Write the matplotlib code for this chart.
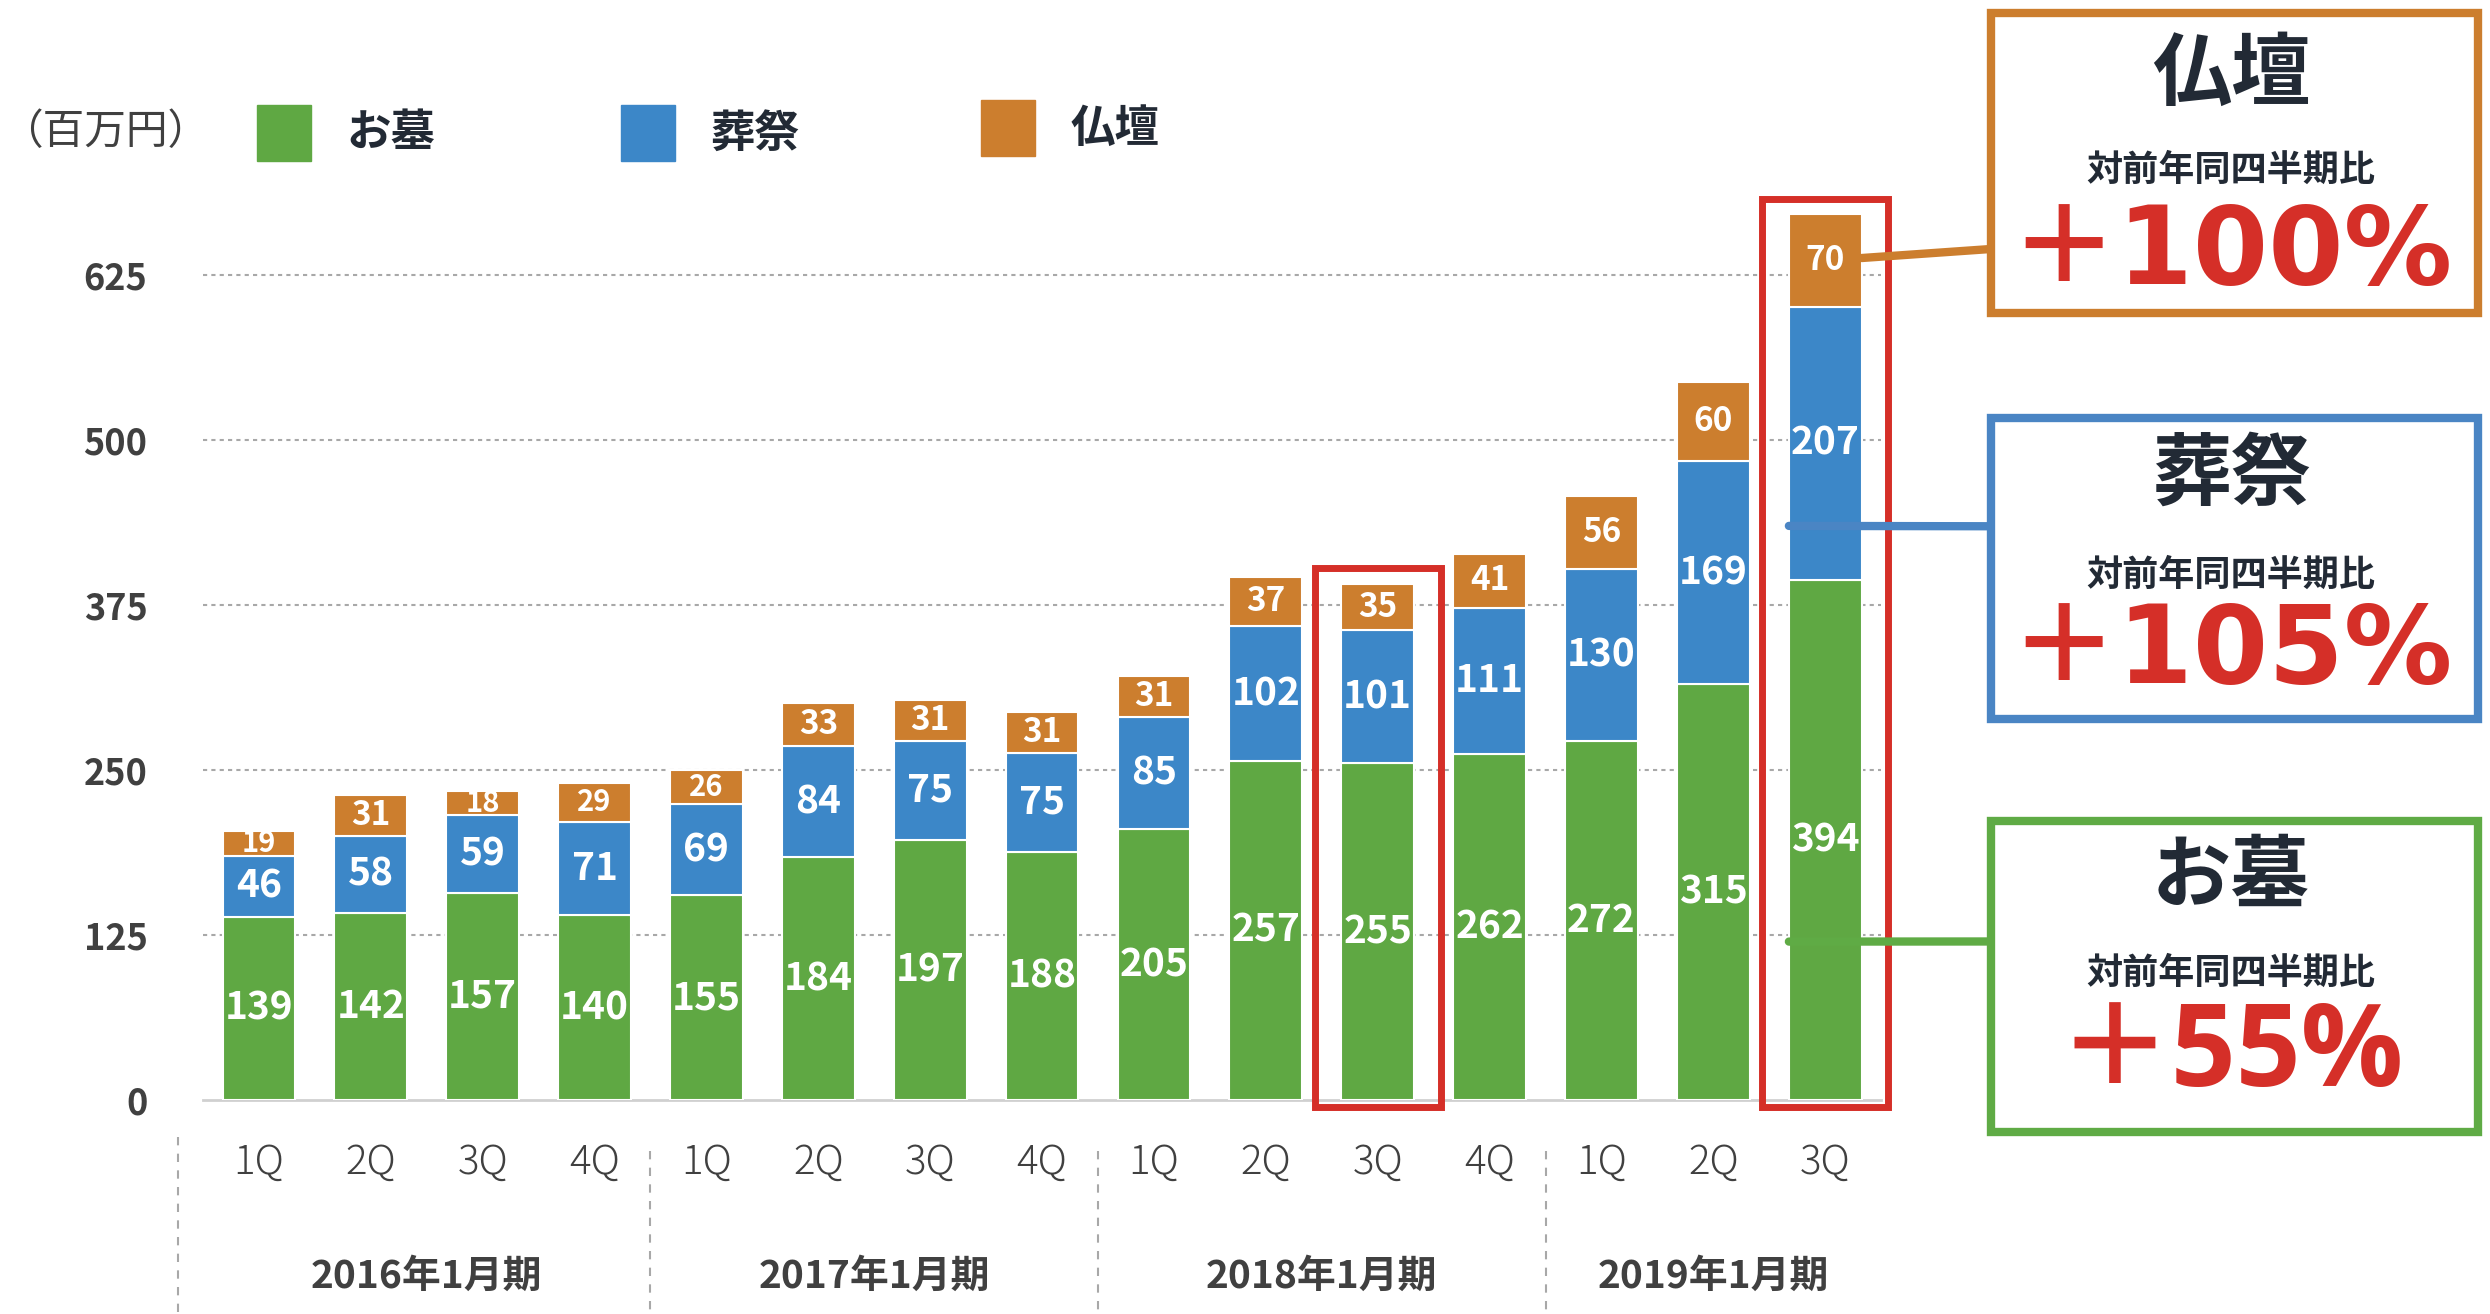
import matplotlib
matplotlib.use("Agg")
import matplotlib.pyplot as plt
import numpy as np
from matplotlib.patches import Rectangle, ConnectionPatch

plt.rcParams['font.family'] = ['Noto Sans CJK JP', 'DejaVu Sans']

# data
quarters = ['1Q', '2Q', '3Q', '4Q'] * 3 + ['1Q', '2Q', '3Q']
years = ['2016年1月期', '2017年1月期', '2018年1月期', '2019年1月期']
ohaka = [139, 142, 157, 140, 155, 184, 197, 188, 205, 257, 255, 262, 272, 315, 394]
sousai = [46, 58, 59, 71, 69, 84, 75, 75, 85, 102, 101, 111, 130, 169, 207]
butsudan = [19, 31, 18, 29, 26, 33, 31, 31, 31, 37, 35, 41, 56, 60, 70]
series_names = ['お墓', '葬祭', '仏壇']
yoy = ['＋100%', '＋105%', '＋55%']
yticks = [0, 125, 250, 375, 500, 625]
highlight = [10, 14]

GREEN = '#5fa843'
BLUE = '#3c87c8'
ORANGE = '#cc7e2e'
RED = '#d52f28'
DARK = '#222a35'
GREY = '#404040'

fig = plt.figure(figsize=(24.9, 13.14), dpi=100)
ax = fig.add_axes([0.0815, 0.1629, 0.674, 0.703])

x = np.arange(len(ohaka))
w = 0.65
a = np.array(ohaka)
b = np.array(sousai)
c = np.array(butsudan)
ax.bar(x, a, w, color=GREEN, edgecolor='white', linewidth=1.5, zorder=3)
ax.bar(x, b, w, bottom=a, color=BLUE, edgecolor='white', linewidth=1.5, zorder=3)
ax.bar(x, c, w, bottom=a + b, color=ORANGE, edgecolor='white', linewidth=1.5, zorder=3)

for i in x:
    ax.text(i, a[i] / 2, str(a[i]), ha='center', va='center', color='white',
            fontsize=28, fontweight='bold', zorder=5)
    ax.text(i, a[i] + b[i] / 2, str(b[i]), ha='center', va='center', color='white',
            fontsize=28, fontweight='bold', zorder=5)
    ax.text(i, a[i] + b[i] + c[i] / 2, str(c[i]), ha='center', va='center', color='white',
            fontsize=21 if c[i] < 30 else 24, fontweight='bold', zorder=5)

ax.set_xlim(-0.5, 14.5)
ax.set_ylim(0, 700)
ax.set_yticks(yticks)
ax.set_yticklabels([str(v) for v in yticks], fontsize=26, fontweight='bold', color=GREY)
ax.tick_params(axis='y', length=0, pad=40)
ax.set_xticks(x)
ax.set_xticklabels(quarters, fontsize=29, color=GREY, fontweight='light')
ax.tick_params(axis='x', length=0, pad=30)
for s in ['top', 'right', 'left']:
    ax.spines[s].set_visible(False)
ax.spines['bottom'].set_color('#d0d0d0')
ax.spines['bottom'].set_linewidth(2)
for v in yticks[1:]:
    ax.axhline(v, color='#a8a8a8', linestyle=(0, (2, 2)), linewidth=1.5, zorder=1)

# year labels and separators
for k, yl in enumerate(years):
    start = k * 4
    end = min(start + 3, len(x) - 1)
    ax.text((start + end) / 2, -0.191, yl, transform=ax.get_xaxis_transform(),
            ha='center', va='center', fontsize=28, fontweight='bold', color=GREY)
for sx, y0 in zip([-0.72, 3.5, 7.5, 11.5], [-0.04, -0.055, -0.055, -0.055]):
    ax.plot([sx, sx], [y0, -0.305], transform=ax.get_xaxis_transform(),
            color='#a8a8a8', linestyle=(0, (4, 4)), linewidth=1.5, clip_on=False)

# red highlight boxes
for h in highlight:
    top = a[h] + b[h] + c[h] + 12
    ax.add_patch(Rectangle((h - 0.565, -5), 1.13, top + 5, fill=False, edgecolor=RED,
                           linewidth=5, clip_on=False, zorder=6))

# legend
ax.text(-0.0585, 1.0476, '（百万円）', transform=ax.transAxes, ha='center', va='center',
        fontsize=30, color=GREY)
leg_x = [0.1032, 0.2494, 0.3940]
leg_c = [GREEN, BLUE, ORANGE]
leg_y = [0.8775, 0.8775, 0.881]
for lx, lc, ly, name in zip(leg_x, leg_c, leg_y, series_names):
    fig.patches.append(Rectangle((lx, ly), 0.0217, 0.0426, color=lc, transform=fig.transFigure))
    fig.text(lx + 0.036, ly + 0.021, name, ha='left', va='center', fontsize=32,
             fontweight='bold', color=DARK)

# right boxes
box_c = [ORANGE, '#4a85c4', '#5fab45']
box_y = [(0.762, 0.228), (0.4528, 0.229), (0.1385, 0.2367)]
title_y = [0.943, 0.638, 0.332]
sub_y = [0.870, 0.5624, 0.2595]
pct_y = [0.807, 0.503, 0.196]
names_box = ['仏壇', '葬祭', 'お墓']
pct_font = [['DejaVu Sans'], ['DejaVu Sans'], ['Open Sans', 'DejaVu Sans']]
for bc, (by, bh), ty, sy, py, nm, pct, pf in zip(box_c, box_y, title_y, sub_y, pct_y,
                                                names_box, yoy, pct_font):
    fig.patches.append(Rectangle((0.7995, by), 0.1955, bh, facecolor='white', edgecolor=bc,
                                 linewidth=6, transform=fig.transFigure))
    fig.text(0.896, ty, nm, ha='center', va='center', fontsize=57, fontweight='bold', color=DARK)
    fig.text(0.896, sy, '対前年同四半期比', ha='center', va='center', fontsize=26,
             fontweight='bold', color=DARK)
    fig.text(0.896, py, pct, ha='center', va='center', fontsize=78 if pct != '＋55%' else 82,
             fontweight='bold', color=RED, family=pf + ['Noto Sans CJK JP'])

# connectors from last bar to boxes
last = len(x) - 1
conn = [(last + w / 2, a[last] + b[last] + c[last] / 2 + 2, 0.8105, ORANGE),
        (last - w / 2, 435, 0.5995, '#4a85c4'),
        (last - w / 2, 120, 0.2835, '#5fab45')]
for cx, cy, fy, cc in conn:
    cp = ConnectionPatch((cx, cy), (0.7995, fy), coordsA='data', coordsB='figure fraction',
                         axesA=ax, color=cc, linewidth=6, zorder=7)
    fig.add_artist(cp)

fig.savefig('out.png', dpi=100)
